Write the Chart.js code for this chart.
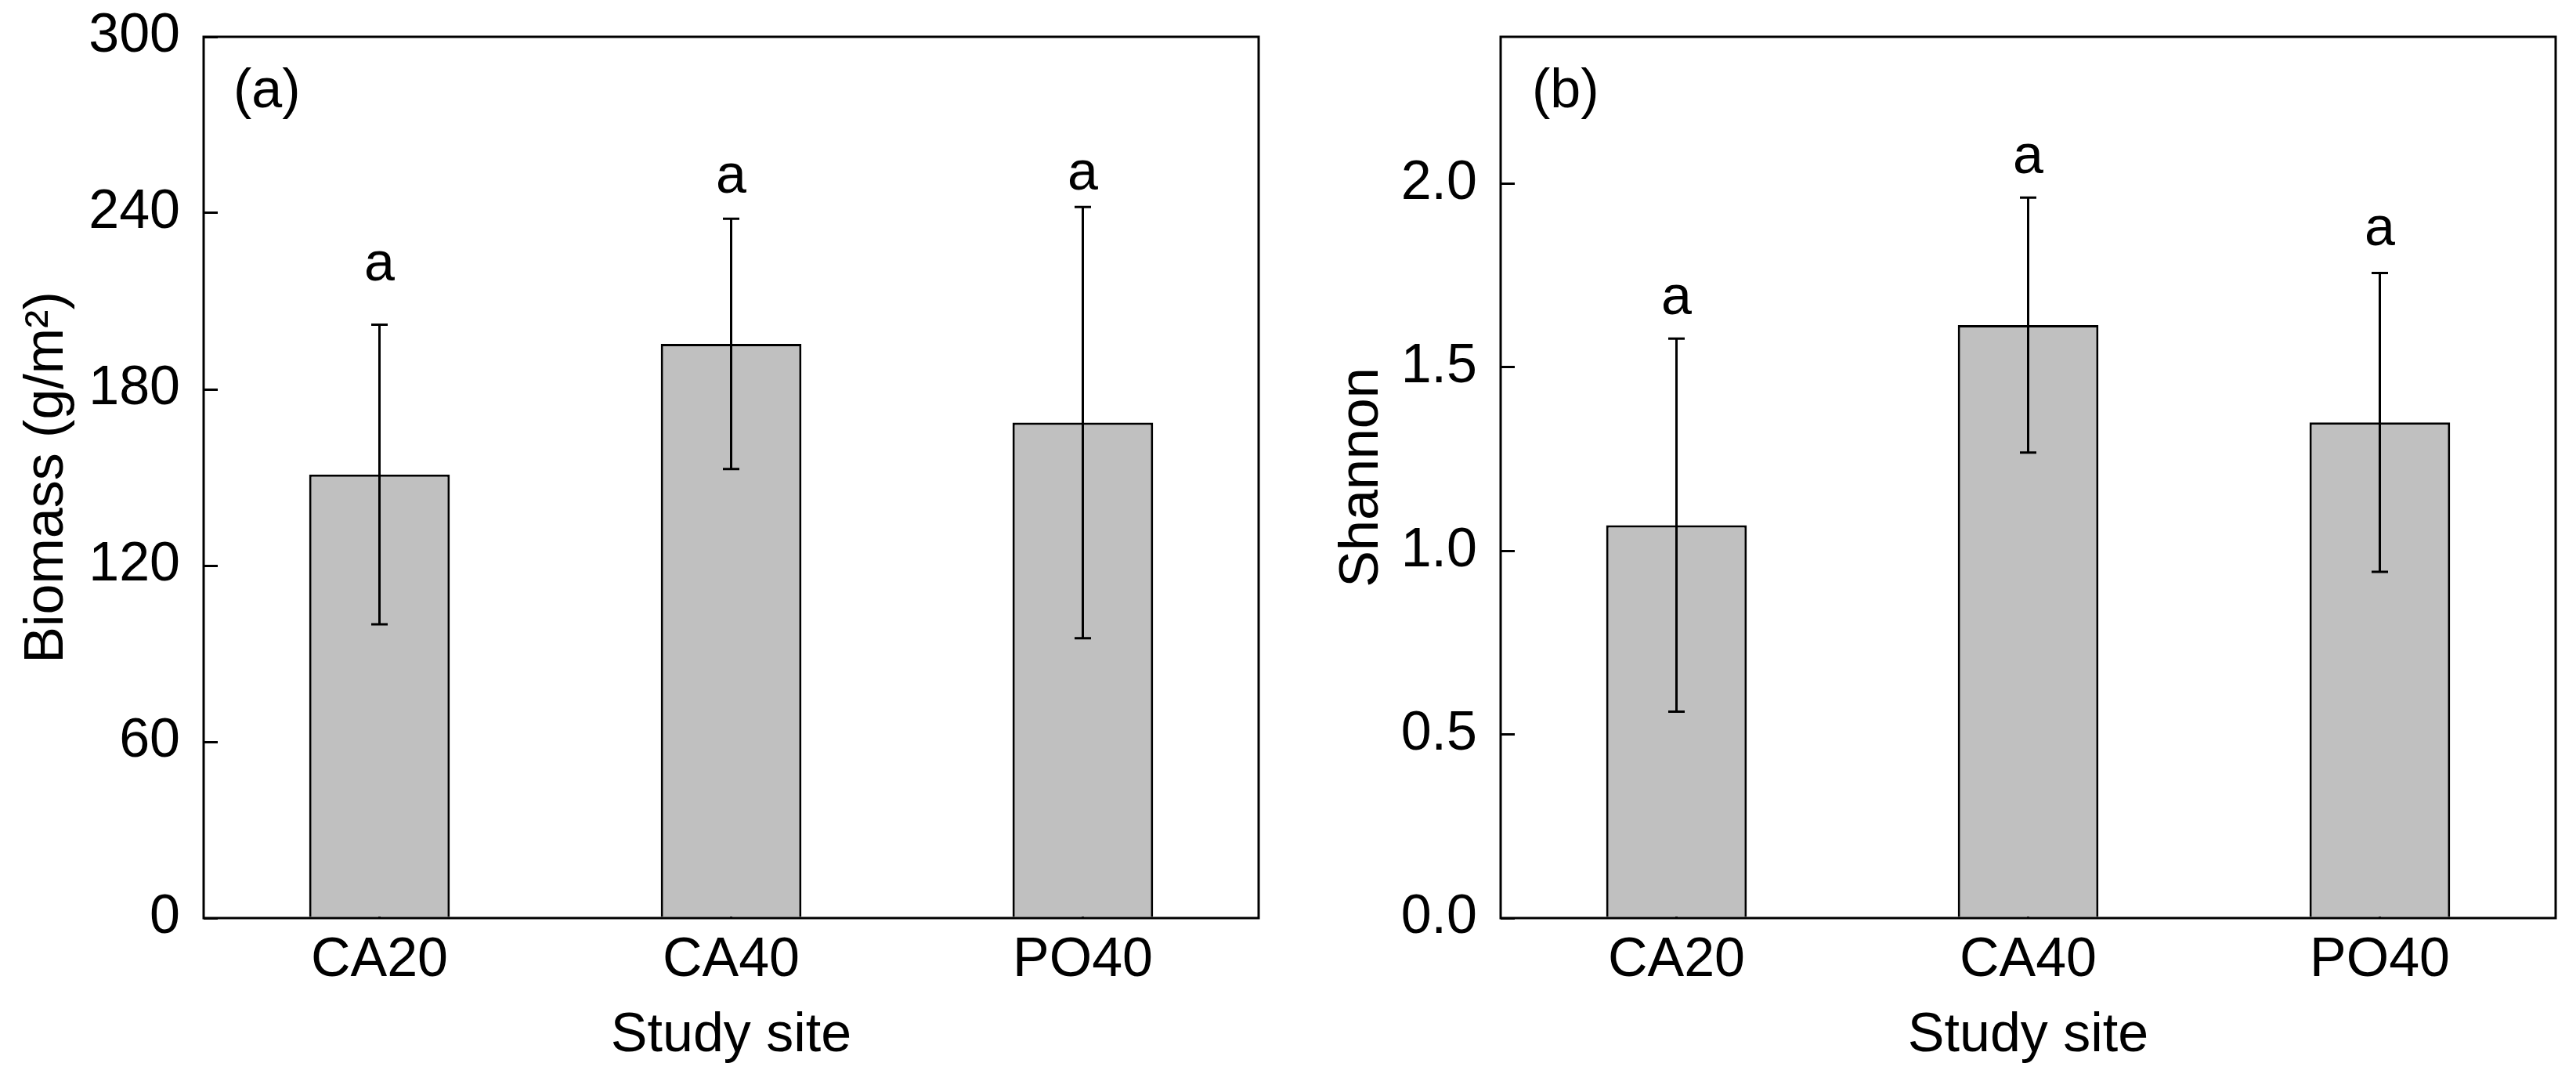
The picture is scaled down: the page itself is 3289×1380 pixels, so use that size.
<!DOCTYPE html>
<html lang="en">
<head>
<meta charset="UTF-8">
<title>Biomass and Shannon index by study site</title>
<script src="https://cdn.jsdelivr.net/npm/chart.js"></script>
<style>
  html, body { margin: 0; padding: 0; background: #fff; }
  #left { position: absolute; left: 0; top: 0; }
  #right { position: absolute; left: 1640px; top: 0; }
</style>
</head>
<body>
<canvas id="left" width="1640" height="1380"></canvas>
<canvas id="right" width="1649" height="1380"></canvas>
<script>
const sites = ['CA20', 'CA40', 'PO40'];

// panel (a)
const biomassMean = [151, 195.5, 168.7];
const biomassSD = [51, 42.6, 73.4];
const biomassLetters = ['a', 'a', 'a'];
const biomassLetterY = [217, 247, 248];
const biomassTicks = [0, 60, 120, 180, 240, 300];

// panel (b)
const shannonMean = [1.07, 1.615, 1.35];
const shannonSD = [0.508, 0.347, 0.407];
const shannonLetters = ['a', 'a', 'a'];
const shannonLetterY = [1.645, 2.029, 1.833];
const shannonTicks = [0, 0.5, 1.0, 1.5, 2.0];

const FONT = '"Liberation Sans", Arial, sans-serif';
const font70 = { family: FONT, size: 70 };

function makeChart(id, opt) {
    // error bars, letters, frame and panel tag
    const extras = {
        id: 'extras',
        afterDatasetsDraw(chart) {
            const ctx = chart.ctx, x = chart.scales.x, y = chart.scales.y;
            ctx.save();
            ctx.strokeStyle = '#000';
            ctx.lineWidth = 3;
            opt.mean.forEach((m, i) => {
                const px = x.getPixelForValue(i);
                const top = y.getPixelForValue(m + opt.sd[i]);
                const bot = y.getPixelForValue(m - opt.sd[i]);
                ctx.beginPath();
                ctx.moveTo(px, top); ctx.lineTo(px, bot);
                ctx.moveTo(px - 10.5, top); ctx.lineTo(px + 10.5, top);
                ctx.moveTo(px - 10.5, bot); ctx.lineTo(px + 10.5, bot);
                ctx.stroke();
            });
            ctx.fillStyle = '#000';
            ctx.font = '70px ' + FONT;
            ctx.textAlign = 'center';
            ctx.textBaseline = 'alphabetic';
            opt.letters.forEach((t, i) => {
                ctx.fillText(t, x.getPixelForValue(i), y.getPixelForValue(opt.letterY[i]));
            });
            const a = chart.chartArea;
            ctx.strokeRect(a.left, a.top, a.right - a.left, a.bottom - a.top);
            ctx.textAlign = 'left';
            ctx.fillText(opt.panel, a.left + opt.tagX, a.top + 90);
            ctx.restore();
        }
    };

    return new Chart(document.getElementById(id), {
        type: 'bar',
        data: {
            labels: sites,
            datasets: [{
                data: opt.mean,
                backgroundColor: '#c0c0c0',
                borderColor: '#000',
                borderWidth: 3,
                barPercentage: 0.4,
                categoryPercentage: 1
            }]
        },
        options: {
            responsive: false,
            animation: false,
            layout: { padding: { left: 0, top: 47, right: opt.padRight, bottom: 0 } },
            plugins: { legend: { display: false }, tooltip: { enabled: false } },
            scales: {
                x: {
                    afterFit: s => { s.height = 208; s.paddingLeft = 0; s.paddingRight = 0; },
                    border: { display: false },
                    grid: { offset: false, drawOnChartArea: false, color: '#000', lineWidth: 3, tickLength: -18, tickWidth: 3 },
                    ticks: { padding: 31, color: '#000', font: font70 },
                    title: { display: true, text: 'Study site', color: '#000', font: font70, padding: { top: 0, bottom: 15 } }
                },
                y: {
                    min: 0,
                    max: opt.max,
                    afterBuildTicks: s => { s.ticks = opt.ticks.map(v => ({ value: v })); },
                    afterFit: s => { s.width = opt.axisWidth; s.paddingTop = 0; s.paddingBottom = 0; },
                    border: { display: false },
                    grid: { drawOnChartArea: false, color: '#000', lineWidth: 3, tickLength: -18, tickWidth: 3 },
                    ticks: { padding: 48, color: '#000', font: font70, callback: opt.fmt },
                    title: { display: true, text: opt.title, color: '#000', font: font70, padding: { top: opt.titlePad, bottom: 0 } }
                }
            }
        },
        plugins: [extras]
    });
}

makeChart('left', {
    mean: biomassMean, sd: biomassSD, letters: biomassLetters, letterY: biomassLetterY,
    ticks: biomassTicks, max: 300, fmt: v => String(v),
    title: 'Biomass (g/m²)', titlePad: 19, axisWidth: 260, padRight: 33,
    panel: '(a)', tagX: 38
});

makeChart('right', {
    mean: shannonMean, sd: shannonSD, letters: shannonLetters, letterY: shannonLetterY,
    ticks: shannonTicks, max: 2.4, fmt: v => Number(v).toFixed(1),
    title: 'Shannon', titlePad: 58, axisWidth: 276, padRight: 26,
    panel: '(b)', tagX: 40
});
</script>
</body>
</html>
